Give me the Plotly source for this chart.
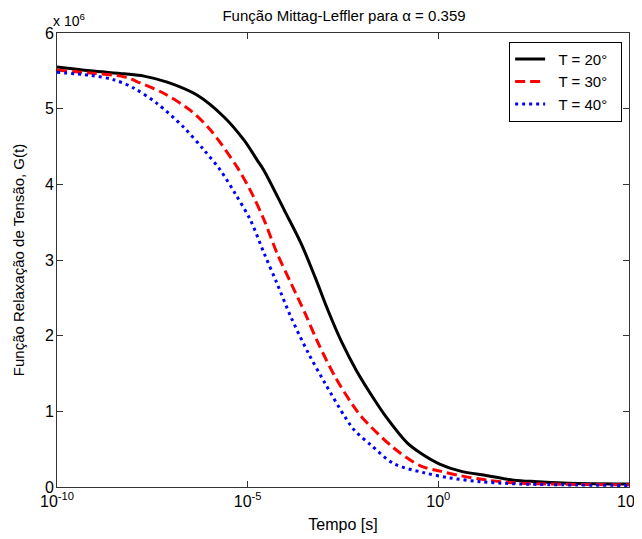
import plotly.graph_objects as go

# log10(t) sample points and G(t) values (x 10^6)
logt_20 = [-10.0, -9.13, -8.24, -7.72, -7.11, -6.33, -5.62, -5.09, -4.75, -4.58, -4.04, -3.60, -3.23, -2.89,
           -2.52, -2.15, -1.71, -1.36, -0.81, -0.47, 0.05, 0.58, 1.29, 1.97, 2.60, 3.4, 5.0]
G_20 = [5.55, 5.50, 5.46, 5.43, 5.35, 5.18, 4.89, 4.58, 4.32, 4.19, 3.66, 3.22, 2.77, 2.33,
        1.90, 1.54, 1.18, 0.92, 0.58, 0.45, 0.30, 0.21, 0.15, 0.09, 0.07, 0.05, 0.04]

logt_30 = [-10.0, -9.13, -8.24, -7.82, -7.19, -6.51, -5.98, -5.28, -4.93, -4.57, -4.23, -3.86, -3.49, -3.15,
           -2.70, -2.28, -2.00, -1.18, -0.47, 0.05, 0.58, 1.29, 2.15, 5.0]
G_30 = [5.51, 5.47, 5.42, 5.34, 5.20, 4.98, 4.72, 4.23, 3.92, 3.53, 3.09, 2.69, 2.29, 1.90,
        1.45, 1.11, 0.92, 0.52, 0.28, 0.21, 0.15, 0.09, 0.05, 0.03]

logt_40 = [-10.0, -9.13, -8.50, -7.98, -7.38, -6.67, -6.14, -5.72, -5.33, -4.93, -4.57, -4.23, -3.86, -3.41, -2.97,
           -2.44, -2.20, -1.76, -1.17, -0.39, 0.31, 1.10, 2.15, 5.0]
G_40 = [5.48, 5.44, 5.38, 5.27, 5.07, 4.75, 4.45, 4.19, 3.88, 3.53, 3.09, 2.69, 2.24, 1.77, 1.37,
        0.92, 0.75, 0.55, 0.31, 0.19, 0.12, 0.07, 0.04, 0.02]

series_names = ["T = 20°", "T = 30°", "T = 40°"]
x_tick_exps = [-10, -5, 0, 5]
y_ticks = [0, 1, 2, 3, 4, 5, 6]

FONT = "Liberation Sans, Arial, sans-serif"
NB = "\u00a0"

fig = go.Figure()
styles = [("black", "solid"), ("red", "10px,5px"), ("blue", "3px,4px")]
for (lt, g), name, (col, dash) in zip([(logt_20, G_20), (logt_30, G_30), (logt_40, G_40)], series_names, styles):
    fig.add_trace(go.Scatter(
        x=[10 ** v for v in lt], y=g, mode="lines", name=NB * 2 + name + NB * 2,
        line=dict(color=col, width=3, dash=dash, shape="spline", smoothing=0.9),
    ))

fig.update_layout(
    width=634, height=531,
    margin=dict(l=49, r=13, t=25, b=52),
    paper_bgcolor="white", plot_bgcolor="white",
    font=dict(family=FONT, size=15, color="black"),
    title=dict(text="Função Mittag-Leffler para α = 0.359", x=0.53, xanchor="center",
               y=0.985, yanchor="middle", font=dict(size=15, family=FONT), automargin=False),
    showlegend=True,
    legend=dict(x=0.988, xanchor="right", y=0.981, yanchor="top",
                bordercolor="black", borderwidth=1, bgcolor="white",
                font=dict(size=15, family=FONT), tracegroupgap=0, itemwidth=30),
)

fig.update_xaxes(
    type="log", range=[-10, 5], automargin=False,
    tickvals=[10 ** e for e in x_tick_exps],
    ticktext=[f"10<sup>{e}</sup>" for e in x_tick_exps],
    ticks="inside", ticklen=6, tickcolor="#333", mirror="allticks",
    showline=True, linecolor="#333", linewidth=1, showgrid=False, zeroline=False,
    title=dict(text="Tempo [s]", font=dict(size=16), standoff=9),
    tickfont=dict(size=16),
)
fig.update_yaxes(
    range=[0, 6], tickvals=y_ticks, ticktext=[str(v) for v in y_ticks], automargin=False,
    ticks="inside", ticklen=6, tickcolor="#333", mirror="allticks", ticklabelstandoff=-1,
    showline=True, linecolor="#333", linewidth=1, showgrid=False, zeroline=False,
    title=dict(text="Função Relaxação de Tensão, G(t)", font=dict(size=15), standoff=16),
    tickfont=dict(size=16),
)

fig.add_annotation(text="x 10<sup>6</sup>", xref="paper", yref="paper", x=0.0, y=1.0,
                   xanchor="left", yanchor="bottom", showarrow=False,
                   font=dict(size=14, family=FONT), xshift=-6, yshift=2)

fig.write_html("out.html")
